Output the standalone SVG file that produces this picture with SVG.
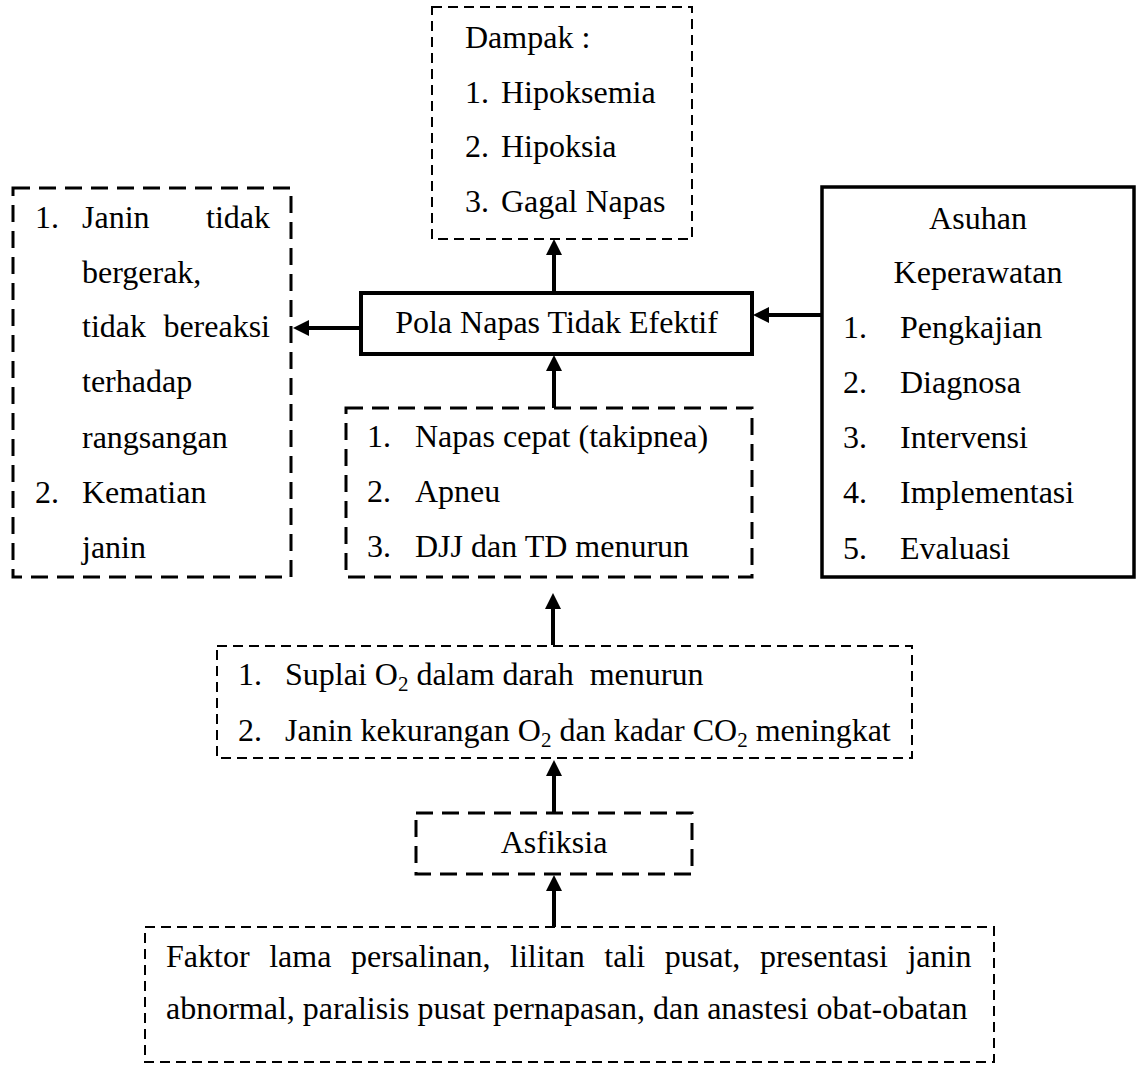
<svg xmlns="http://www.w3.org/2000/svg" width="1136" height="1066" viewBox="0 0 1136 1066">
<style>
text { font-family: "Liberation Serif", "Times New Roman", serif; font-size: 32px; fill: #000; }
.box { fill: #fff; stroke: #000; }
.thin { stroke-width: 2; stroke-dasharray: 10 6; }
.thick { stroke-width: 3; stroke-dasharray: 17 9; }
.solid { stroke-width: 4; }
.sub { font-size: 21px; }
.con { stroke: #000; stroke-width: 4; fill: none; marker-end: url(#ah); }
</style>
<defs>
<marker id="ah" viewBox="0 0 16 16" refX="4" refY="8" markerWidth="16" markerHeight="16" markerUnits="userSpaceOnUse" orient="auto">
<path d="M0,0 L16,8 L0,16 Z" fill="#000"/>
</marker>
</defs>
<rect width="1136" height="1066" fill="#fff"/>

<g id="connectors">
<path class="con" d="M554 293 L554 251"/>
<path class="con" d="M361 328 L305 328"/>
<path class="con" d="M822 315 L765 315"/>
<path class="con" d="M554 408 L554 367"/>
<path class="con" d="M553 645 L553 605"/>
<path class="con" d="M554 813 L554 772"/>
<path class="con" d="M554 927 L554 887"/>
</g>

<g id="dampak">
<rect class="box thin" x="432" y="7" width="260" height="232"/>
<text x="465" y="48">Dampak :</text>
<text x="465" y="103">1.</text><text x="501" y="103">Hipoksemia</text>
<text x="465" y="157">2.</text><text x="501" y="157">Hipoksia</text>
<text x="465" y="212">3.</text><text x="501" y="212">Gagal Napas</text>
</g>

<g id="pola">
<rect class="box solid" x="361" y="293" width="391" height="61"/>
<text x="556.5" y="333" text-anchor="middle">Pola Napas Tidak Efektif</text>
</g>

<g id="dampak-janin">
<rect class="box thick" x="13" y="188" width="278" height="389"/>
<text x="35" y="228">1.</text><text x="82" y="228">Janin</text><text x="270" y="228" text-anchor="end">tidak</text>
<text x="82" y="283">bergerak,</text>
<text x="82" y="337">tidak</text><text x="270" y="337" text-anchor="end">bereaksi</text>
<text x="82" y="392">terhadap</text>
<text x="82" y="448">rangsangan</text>
<text x="35" y="503">2.</text><text x="82" y="503">Kematian</text>
<text x="82" y="558">janin</text>
</g>

<g id="asuhan">
<rect class="box" stroke-width="3.5" x="822" y="187" width="312" height="390"/>
<text x="978" y="229" text-anchor="middle">Asuhan</text>
<text x="978" y="283" text-anchor="middle">Keperawatan</text>
<text x="843" y="338">1.</text><text x="900" y="338">Pengkajian</text>
<text x="843" y="393">2.</text><text x="900" y="393">Diagnosa</text>
<text x="843" y="448">3.</text><text x="900" y="448">Intervensi</text>
<text x="843" y="503">4.</text><text x="900" y="503">Implementasi</text>
<text x="843" y="559">5.</text><text x="900" y="559">Evaluasi</text>
</g>

<g id="tanda">
<rect class="box thick" x="346" y="408" width="406" height="169"/>
<text x="367" y="447">1.</text><text x="415" y="447">Napas cepat (takipnea)</text>
<text x="367" y="502">2.</text><text x="415" y="502">Apneu</text>
<text x="367" y="557">3.</text><text x="415" y="557">DJJ dan TD menurun</text>
</g>

<g id="suplai">
<rect class="box thin" stroke-dasharray="11 7" x="217" y="646" width="695" height="112"/>
<text x="238" y="685">1.</text>
<text x="285" y="685" xml:space="preserve">Suplai O<tspan class="sub" dy="6">2</tspan><tspan dy="-6"> dalam darah  menurun</tspan></text>
<text x="238" y="741">2.</text>
<text x="285" y="741">Janin kekurangan O<tspan class="sub" dy="6">2</tspan><tspan dy="-6"> dan kadar CO</tspan><tspan class="sub" dy="6">2</tspan><tspan dy="-6"> meningkat</tspan></text>
</g>

<g id="asfiksia">
<rect class="box thick" x="416" y="813" width="276" height="61"/>
<text x="554" y="853" text-anchor="middle">Asfiksia</text>
</g>

<g id="faktor">
<rect class="box thin" x="145" y="927" width="849" height="135"/>
<text x="166" y="967" word-spacing="11.6">Faktor lama persalinan, lilitan tali pusat, presentasi janin</text>
<text x="166" y="1019">abnormal, paralisis pusat pernapasan, dan anastesi obat-obatan</text>
</g>
</svg>
